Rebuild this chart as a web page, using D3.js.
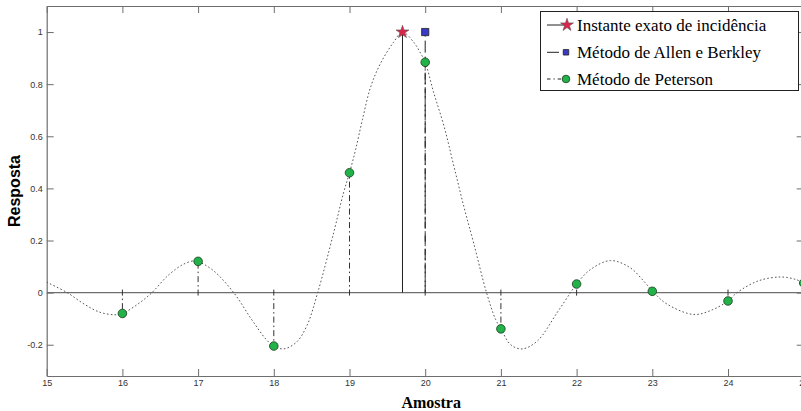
<!DOCTYPE html>
<html><head><meta charset="utf-8">
<script src="https://cdn.jsdelivr.net/npm/d3@7"></script>
<style>
html,body{margin:0;padding:0;background:#fff;}
svg{display:block;}
</style></head>
<body>
<svg id="chart" width="801" height="411"></svg>
<script>
// ---- data ----
const xTicks = [15,16,17,18,19,20,21,22,23,24,25];
const yTicks = [-0.2,0,0.2,0.4,0.6,0.8,1];
const yTickLabels = ["-0.2","0","0.2","0.4","0.6","0.8","1"];

// continuous response (dotted curve)
const curveX = [15.0,15.27,15.5,15.7,15.9,16.0,16.2,16.39,16.6,16.8,16.96,17.0,17.2,17.47,17.7,17.9,18.0,18.13,18.3,18.44,18.58,18.79,18.92,19.0,19.08,19.17,19.28,19.41,19.58,19.7,19.85,19.94,20.0,20.11,20.25,20.38,20.51,20.64,20.81,20.93,21.0,21.13,21.28,21.48,21.74,21.92,22.0,22.18,22.45,22.71,22.89,23.02,23.2,23.55,23.8,24.0,24.12,24.4,24.7,24.9,25.0];
const curveY = [0.040,0.0,-0.045,-0.075,-0.085,-0.080,-0.045,0.0,0.065,0.108,0.123,0.120,0.085,0.0,-0.100,-0.180,-0.205,-0.216,-0.190,-0.125,0.0,0.229,0.382,0.460,0.548,0.663,0.790,0.880,0.960,1.0,0.960,0.918,0.884,0.770,0.637,0.484,0.331,0.190,0.0,-0.103,-0.139,-0.200,-0.216,-0.186,-0.078,0.0,0.033,0.088,0.123,0.095,0.043,0.0,-0.045,-0.084,-0.065,-0.032,0.0,0.045,0.060,0.050,0.037];

// Peterson method samples
const petersonX = [16,17,18,19,20,21,22,23,24,25];
const petersonY = [-0.080,0.120,-0.205,0.460,0.884,-0.139,0.033,0.005,-0.032,0.037];

// exact incidence instant
const instantX = [19.7];
const instantY = [1.0];

// Allen & Berkley method
const allenX = [20];
const allenY = [1.0];

const legendLabels = ["Instante exato de incidência","Método de Allen e Berkley","Método de Peterson"];

// ---- drawing ----
const svg = d3.select("#chart");
const W = 801, H = 411;
const x = d3.scaleLinear().domain([15,25]).range([46.7,803.7]);
const y = d3.scaleLinear().domain([-0.32,1.1]).range([376,6]);
const axisColor = "#6e6e6e";

svg.append("rect").attr("width",W).attr("height",H).attr("fill","#fff");

const defs = svg.append("defs");
defs.append("clipPath").attr("id","clip").append("rect")
  .attr("x",x.range()[0]).attr("y",y.range()[1])
  .attr("width",x.range()[1]-x.range()[0]).attr("height",y.range()[0]-y.range()[1]);

// axes (box with inward ticks)
const gB = svg.append("g").attr("transform",`translate(0,${y.range()[0]})`)
  .call(d3.axisBottom(x).tickValues(xTicks).tickFormat(d3.format("d")).tickSizeInner(-7).tickSizeOuter(0).tickPadding(4));
const gT = svg.append("g").attr("transform",`translate(0,${y.range()[1]})`)
  .call(d3.axisTop(x).tickValues(xTicks).tickFormat("").tickSizeInner(-7).tickSizeOuter(0));
const gL = svg.append("g").attr("transform",`translate(${x.range()[0]},0)`)
  .call(d3.axisLeft(y).tickValues(yTicks).tickFormat((d,i)=>yTickLabels[i]).tickSizeInner(-7).tickSizeOuter(0).tickPadding(4));
const gR = svg.append("g").attr("transform",`translate(${x.range()[1]},0)`)
  .call(d3.axisRight(y).tickValues(yTicks).tickFormat("").tickSizeInner(-7).tickSizeOuter(0));
[gB,gT,gL,gR].forEach(g=>{
  g.select(".domain").attr("stroke",axisColor).attr("stroke-width",1.2);
  g.selectAll(".tick line").attr("stroke",axisColor).attr("stroke-width",1);
  g.selectAll(".tick text").attr("fill","#333").attr("font-family","'Liberation Sans',Arial,sans-serif").attr("font-size",9);
});

const plot = svg.append("g").attr("clip-path","url(#clip)");

// zero baseline
plot.append("line").attr("x1",x.range()[0]).attr("x2",x.range()[1])
  .attr("y1",y(0)).attr("y2",y(0)).attr("stroke",axisColor).attr("stroke-width",1.2);

// dotted continuous curve
const curvePts = curveX.map((d,i)=>[d,curveY[i]]);
plot.append("path").datum(curvePts)
  .attr("d",d3.line().x(d=>x(d[0])).y(d=>y(d[1])).curve(d3.curveCatmullRom.alpha(0.5)))
  .attr("fill","none").attr("stroke","#555").attr("stroke-width",1).attr("stroke-dasharray","1.6,2.2");

// stems
const pet = petersonX.map((d,i)=>[d,petersonY[i]]);
plot.selectAll(".pstem").data(pet).join("line")
  .attr("x1",d=>x(d[0])).attr("x2",d=>x(d[0]))
  .attr("y1",d=>y(0)+(d[1]>=0?3:-3)).attr("y2",d=>y(d[1]))
  .attr("stroke","#333").attr("stroke-width",1).attr("stroke-dasharray","6,3,1.5,3");

const allen = allenX.map((d,i)=>[d,allenY[i]]);
plot.selectAll(".astem").data(allen).join("line")
  .attr("x1",d=>x(d[0])).attr("x2",d=>x(d[0]))
  .attr("y1",d=>y(0)).attr("y2",d=>y(d[1]))
  .attr("stroke","#222").attr("stroke-width",1).attr("stroke-dasharray","12,4");

const inst = instantX.map((d,i)=>[d,instantY[i]]);
plot.selectAll(".istem").data(inst).join("line")
  .attr("x1",d=>x(d[0])).attr("x2",d=>x(d[0]))
  .attr("y1",d=>y(0)).attr("y2",d=>y(d[1]))
  .attr("stroke","#222").attr("stroke-width",1);

// markers
const starPath = d3.symbol().type(d3.symbolStar).size(52)();
const sqPath = d3.symbol().type(d3.symbolSquare).size(52)();
const green = "#22b24a", red = "#dc2448", blue = "#3a3ac4";

plot.selectAll(".pm").data(pet).join("circle")
  .attr("cx",d=>x(d[0])).attr("cy",d=>y(d[1])).attr("r",4.3)
  .attr("fill",green).attr("stroke","#1c3b1c").attr("stroke-width",0.8);
svg.selectAll(".am").data(allen).join("path")
  .attr("d",sqPath).attr("transform",d=>`translate(${x(d[0])},${y(d[1])})`)
  .attr("fill",blue).attr("stroke","#222").attr("stroke-width",0.8);
svg.selectAll(".im").data(inst).join("path")
  .attr("d",starPath).attr("transform",d=>`translate(${x(d[0])},${y(d[1])})`)
  .attr("fill",red).attr("stroke","#555").attr("stroke-width",0.6);

// axis titles
svg.append("text").attr("x",(x.range()[0]+x.range()[1])/2+6).attr("y",408)
  .attr("text-anchor","middle").attr("font-family","'Liberation Serif','Times New Roman',serif")
  .attr("font-weight","bold").attr("font-size",16).attr("fill","#000").text("Amostra");
svg.append("text").attr("transform",`translate(20,${(y.range()[0]+y.range()[1])/2}) rotate(-90)`)
  .attr("text-anchor","middle").attr("font-family","'Liberation Sans',Arial,sans-serif")
  .attr("font-weight","bold").attr("font-size",16).attr("fill","#000").text("Resposta");

// legend
const lg = svg.append("g");
lg.append("rect").attr("x",540.5).attr("y",11.5).attr("width",258).attr("height",79)
  .attr("fill","#fff").attr("stroke","#222").attr("stroke-width",1);
const rows = [25,52.3,79];
const dashes = [null,"12,4","3.5,3,1.2,3"];
rows.forEach((ry,i)=>{
  const ln = lg.append("line").attr("x1",547).attr("x2",566).attr("y1",ry).attr("y2",ry)
    .attr("stroke","#222").attr("stroke-width",1);
  if (dashes[i]) ln.attr("stroke-dasharray",dashes[i]);
  if (i===0) lg.append("path").attr("d",starPath).attr("transform",`translate(567,${ry})`)
    .attr("fill",red).attr("stroke","#555").attr("stroke-width",0.6);
  if (i===1) lg.append("path").attr("d",d3.symbol().type(d3.symbolSquare).size(30)()).attr("transform",`translate(566,${ry})`)
    .attr("fill",blue).attr("stroke","#222").attr("stroke-width",0.8);
  if (i===2) lg.append("circle").attr("cx",566).attr("cy",ry).attr("r",3.8)
    .attr("fill",green).attr("stroke","#1c3b1c").attr("stroke-width",0.8);
  lg.append("text").attr("x",577).attr("y",ry).attr("dy","0.35em")
    .attr("font-family","'Liberation Serif','Times New Roman',serif").attr("font-size",17)
    .attr("fill","#000").text(legendLabels[i]);
});
</script>
</body></html>
